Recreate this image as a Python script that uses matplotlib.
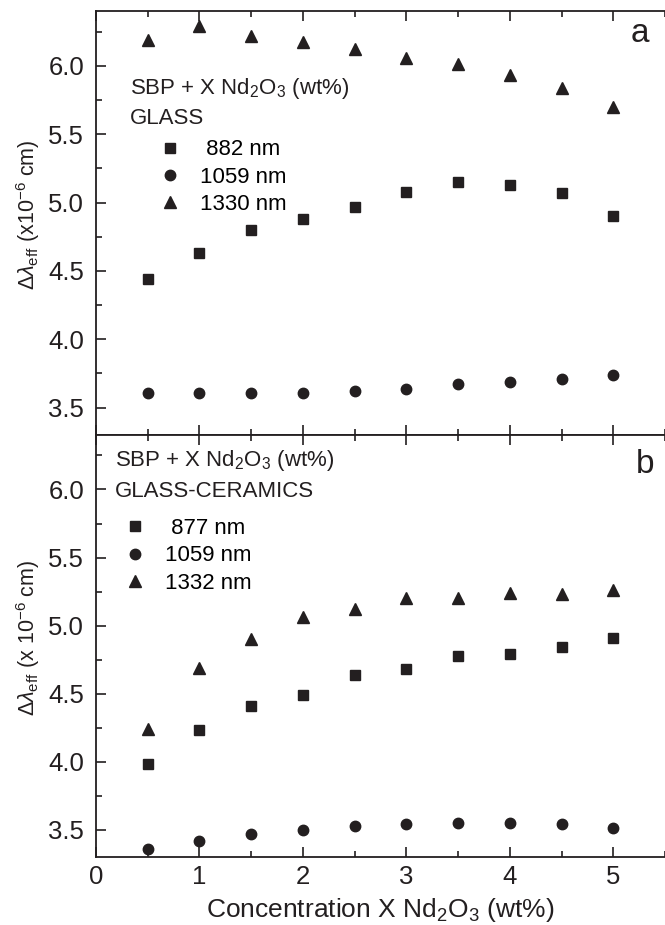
import matplotlib
matplotlib.use("Agg")
import matplotlib.pyplot as plt
from matplotlib.ticker import MultipleLocator

plt.rcParams["font.family"] = ["Liberation Sans", "DejaVu Sans"]
plt.rcParams["mathtext.fontset"] = "custom"
plt.rcParams["mathtext.rm"] = "Liberation Sans"
plt.rcParams["mathtext.it"] = "Liberation Sans:italic"
plt.rcParams["mathtext.bf"] = "Liberation Sans:bold"

INK = "#231f20"

conc = [0.5, 1.0, 1.5, 2.0, 2.5, 3.0, 3.5, 4.0, 4.5, 5.0]

# glass (panel a)
glass_882 = [4.44, 4.63, 4.80, 4.88, 4.97, 5.08, 5.15, 5.13, 5.07, 4.90]
glass_1059 = [3.61, 3.61, 3.61, 3.61, 3.62, 3.64, 3.67, 3.69, 3.71, 3.74]
glass_1330 = [6.19, 6.29, 6.22, 6.17, 6.12, 6.06, 6.01, 5.93, 5.84, 5.70]

# glass-ceramics (panel b)
gc_877 = [3.98, 4.23, 4.41, 4.49, 4.64, 4.68, 4.78, 4.79, 4.84, 4.91]
gc_1059 = [3.36, 3.42, 3.47, 3.50, 3.53, 3.54, 3.55, 3.55, 3.54, 3.51]
gc_1332 = [4.24, 4.69, 4.90, 5.06, 5.12, 5.20, 5.20, 5.24, 5.23, 5.26]

glass_labels = [" 882 nm", "1059 nm", "1330 nm"]
gc_labels = [" 877 nm", "1059 nm", "1332 nm"]

fig = plt.figure(figsize=(6.65, 9.25), dpi=100)
ax_a = fig.add_axes([0.1444, 0.5297, 0.8556, 0.4584])
ax_b = fig.add_axes([0.1444, 0.0735, 0.8556, 0.4562], sharex=ax_a)


def style_axis(ax):
    ax.set_xlim(0, 5.5)
    ax.set_ylim(3.3, 6.4)
    ax.xaxis.set_major_locator(MultipleLocator(1))
    ax.xaxis.set_minor_locator(MultipleLocator(0.5))
    ax.yaxis.set_major_locator(MultipleLocator(0.5))
    ax.yaxis.set_minor_locator(MultipleLocator(0.25))
    ax.tick_params(which="both", direction="in", top=True, right=False,
                   colors=INK, width=1.2, labelsize=18.5)
    ax.tick_params(which="major", length=7)
    ax.tick_params(which="minor", length=4)
    ax.tick_params(axis="y", pad=8.5)
    ax.tick_params(axis="x", pad=6)
    ax.spines["right"].set_visible(False)
    for s in ("left", "top", "bottom"):
        ax.spines[s].set_linewidth(1.3)
        ax.spines[s].set_color(INK)


def plot_panel(ax, series, labels, header, sample, leg_anchor, head_xy):
    markers = [("s", 6.5), ("o", 7.5), ("^", 8)]
    handles = []
    for vals, (m, ms), lab in zip(series, markers, labels):
        h, = ax.plot(conc, vals, linestyle="none", marker=m, markersize=ms,
                     color=INK, label=lab)
        handles.append(h)
    style_axis(ax)
    ax.legend(handles=handles, loc="upper left", bbox_to_anchor=leg_anchor,
              frameon=False, fontsize=16, handletextpad=0.75, handlelength=1.2,
              labelspacing=0.28, borderaxespad=0, borderpad=0)
    ax.text(head_xy[0], head_xy[1], header, transform=ax.transAxes,
            fontsize=16, color=INK, va="center", ha="left")
    ax.text(head_xy[0], head_xy[1] - 0.072, sample, transform=ax.transAxes,
            fontsize=16, color=INK, va="center", ha="left")


header = "SBP + X Nd$_2$O$_3$ (wt%)"

plot_panel(ax_a, [glass_882, glass_1059, glass_1330], glass_labels,
           header, "GLASS", (0.107, 0.697), (0.06, 0.818))
plot_panel(ax_b, [gc_877, gc_1059, gc_1332], gc_labels,
           header, "GLASS-CERAMICS", (0.045, 0.803), (0.033, 0.939))

ax_a.tick_params(labelbottom=False)
ax_a.text(0.956, 0.948, "a", transform=ax_a.transAxes, fontsize=24,
          color=INK, ha="center", va="center")
ax_b.text(0.965, 0.929, "b", transform=ax_b.transAxes, fontsize=24,
          color=INK, ha="center", va="center")

ax_a.set_ylabel(r"$\Delta\lambda_{\rm eff}$ (x10$^{-6}$ cm)", fontsize=15.5,
                color=INK)
ax_b.set_ylabel(r"$\Delta\lambda_{\rm eff}$ (x 10$^{-6}$ cm)", fontsize=15.5,
                color=INK)
ax_a.yaxis.set_label_coords(-0.095, 0.52)
ax_b.yaxis.set_label_coords(-0.095, 0.52)
ax_b.set_xlabel("Concentration X Nd$_2$O$_3$ (wt%)", fontsize=19, color=INK,
                labelpad=5)

fig.savefig("out.png", dpi=100)
